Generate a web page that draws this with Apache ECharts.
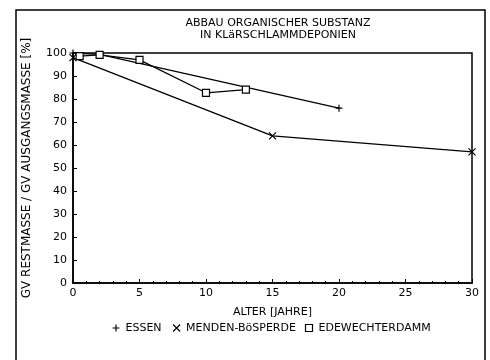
<!DOCTYPE html>
<html><head><meta charset="utf-8">
<script src="https://cdn.jsdelivr.net/npm/echarts@6/dist/echarts.min.js"></script>
<style>html,body{margin:0;padding:0;background:#fff}#c{width:490px;height:360px}</style>
</head><body><div id="c"></div>
<script>
var titleLines = ['ABBAU ORGANISCHER SUBSTANZ', 'IN KLäRSCHLAMMDEPONIEN'];
var xName = 'ALTER [JAHRE]';
var yName = 'GV RESTMASSE / GV AUSGANGSMASSE [%]';
var seriesNames = ['ESSEN', 'MENDEN-BöSPERDE', 'EDEWECHTERDAMM'];
var essenX = [0, 2, 20];
var essenY = [100, 99.4, 76];
var mendenX = [0, 15, 30];
var mendenY = [98, 64, 57];
var edeX = [0.5, 2, 5, 10, 13];
var edeY = [98.6, 99.2, 97, 82.7, 84.1];

function pairs(xs, ys){ return xs.map(function(x,i){return [x, ys[i]];}); }
var plusPath = 'path://M0,5L10,5M5,0L5,10';
var crossPath = 'path://M0,0L10,10M10,0L0,10';
var font = 'DejaVu Sans';
var chart = echarts.init(document.getElementById('c'), null, {renderer:'canvas'});
chart.setOption({
  animation:false,
  backgroundColor:'#fff',
  title:{text: titleLines.join('\n'), left: 273, top: 12, textAlign:'center',
    textStyle:{fontFamily:font, fontSize:11, fontWeight:'normal', color:'#000', lineHeight:12}},
  grid:{left:73, right:18, top:53, bottom:77, show:true, borderColor:'#000', borderWidth:1.5, backgroundColor:'transparent'},
  legend:{bottom:21, left:105, itemGap:9, itemWidth:7, itemHeight:7,
    textStyle:{fontFamily:font, fontSize:11, color:'#000', padding:[0,0,0,1]},
    data:[
      {name:seriesNames[0], icon:plusPath, itemStyle:{color:'none', borderColor:'#000', borderWidth:1.2}},
      {name:seriesNames[1], icon:crossPath, itemStyle:{color:'none', borderColor:'#000', borderWidth:1.2}},
      {name:seriesNames[2], icon:'rect', itemStyle:{color:'#fff', borderColor:'#000', borderWidth:1.2}}
    ]},
  xAxis:{type:'value', min:0, max:30, interval:5, name:xName, nameLocation:'middle', nameGap:24,
    nameTextStyle:{fontFamily:font, fontSize:11, color:'#000'},
    axisLine:{lineStyle:{color:'#000', width:1.5}},
    axisTick:{inside:true, length:4, lineStyle:{color:'#000'}},
    minorTick:{show:true, splitNumber:5, length:2, lineStyle:{color:'#000'}},
    splitLine:{show:false},
    axisLabel:{fontFamily:font, fontSize:11, color:'#000', margin:5}},
  yAxis:{type:'value', min:0, max:100, interval:10, name:yName, nameLocation:'middle', nameGap:40, nameRotate:90,
    nameTextStyle:{fontFamily:font, fontSize:12, color:'#000'},
    axisLine:{show:true, lineStyle:{color:'#000', width:1.5}},
    axisTick:{show:true, inside:true, length:4, lineStyle:{color:'#000'}},
    splitLine:{show:false},
    axisLabel:{fontFamily:font, fontSize:11, color:'#000', margin:6}},
  graphic:[
    {type:'polyline', shape:{points:[[16,360],[16,10],[485,10],[485,360]]}, style:{stroke:'#000', lineWidth:1.5, fill:'none'}}
  ],
  series:[
    {name:seriesNames[0], type:'line', data:pairs(essenX, essenY), symbol:plusPath, symbolSize:7,
      lineStyle:{color:'#000', width:1.3}, itemStyle:{color:'none', borderColor:'#000', borderWidth:1.2}},
    {name:seriesNames[1], type:'line', data:pairs(mendenX, mendenY), symbol:crossPath, symbolSize:7,
      lineStyle:{color:'#000', width:1.3}, itemStyle:{color:'none', borderColor:'#000', borderWidth:1.2}},
    {name:seriesNames[2], type:'line', data:pairs(edeX, edeY), symbol:'rect', symbolSize:7,
      lineStyle:{color:'#000', width:1.3}, itemStyle:{color:'#fff', borderColor:'#000', borderWidth:1.2}}
  ]
});
</script></body></html>
